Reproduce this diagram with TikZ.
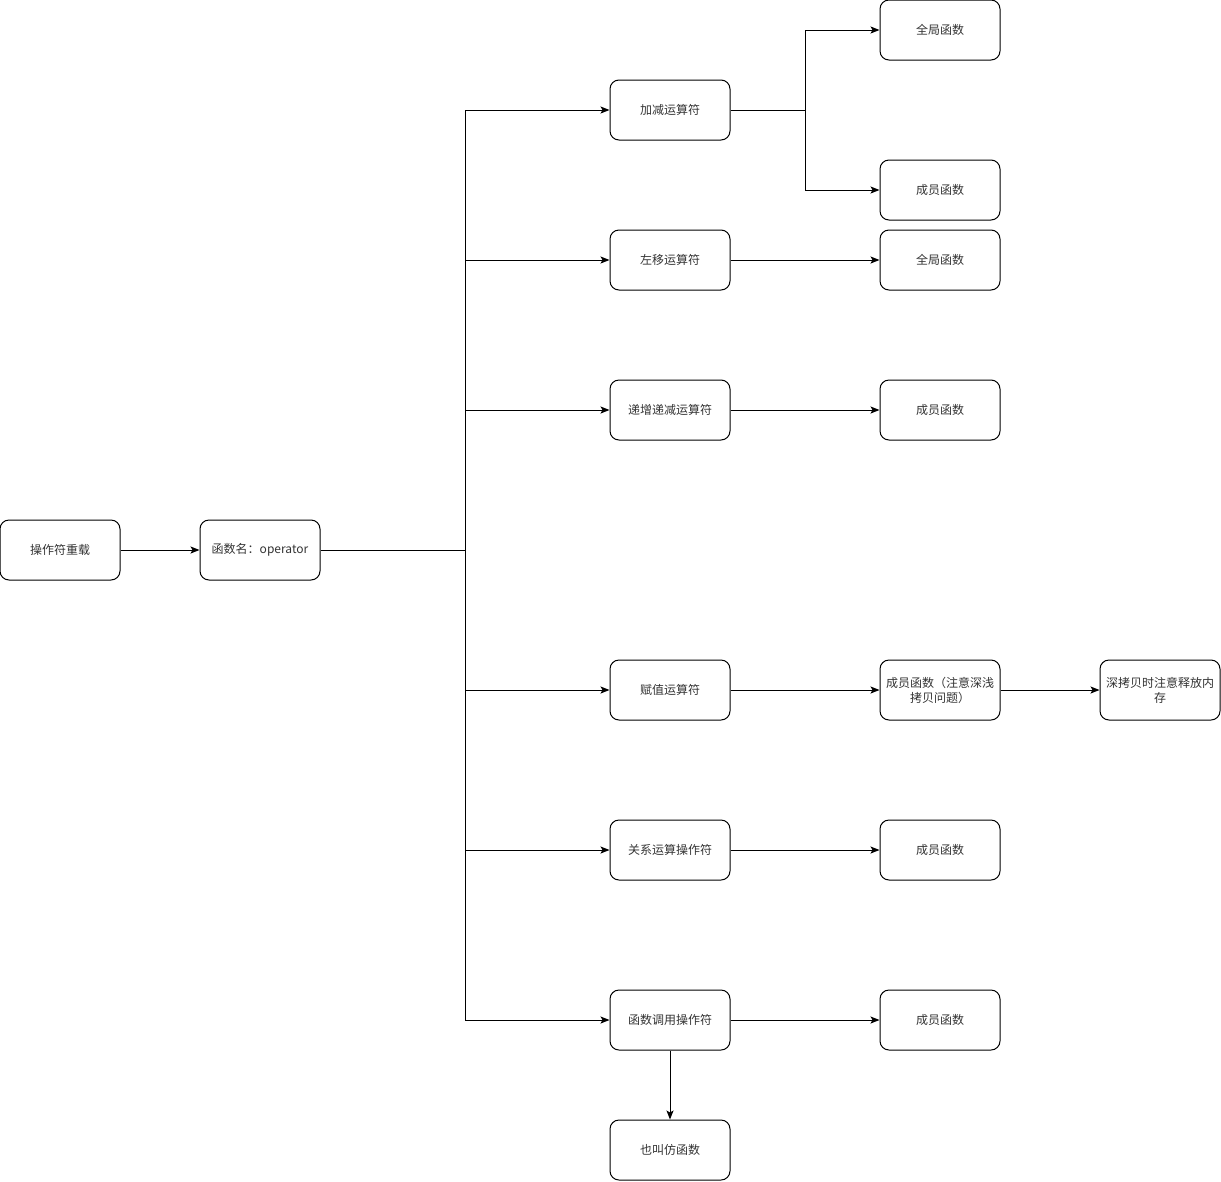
\documentclass[tikz,border=0pt]{standalone}
\usepackage{fontspec}
\setmainfont{Noto Sans CJK SC}
\usetikzlibrary{arrows.meta}
\definecolor{ink}{HTML}{000000}
\definecolor{txt}{HTML}{333333}

\tikzset{
  box/.style={draw=ink,line width=1pt,rounded corners=9pt,minimum width=120pt,
    minimum height=60pt,inner sep=2pt,align=center,text=txt,
    font=\fontsize{12}{15}\selectfont},
  link/.style={draw=ink,line width=1pt},
  arr/.style={link,-{Stealth[length=9pt,width=7pt,inset=2pt]}}
}

\begin{document}
\begin{tikzpicture}[x=1pt,y=-1pt]
    \useasboundingbox (0,0) rectangle (1221,1181);
    \node[box] (root) at (60,550) {操作符重载};
    \node[box] (fn) at (260,550) {函数名：operator};
    \draw[arr] (root) -- (fn);
    \coordinate (j) at (465,550);
    \draw[link] (fn) -- (j);
    % operators and what they are written as
    \foreach \n/\y/\op/\kind in {%
      b/260/左移运算符/全局函数, c/410/递增递减运算符/成员函数,
      e/850/关系运算操作符/成员函数, f/1020/函数调用操作符/成员函数}{
      \node[box] (op\n) at (670,\y) {\op};
      \node[box] (fx\n) at (940,\y) {\kind};
      \draw[arr] (j |- op\n) -- (op\n);
      \draw[arr] (op\n) -- (fx\n);}
    \node[box] (opa) at (670,110) {加减运算符};
    \node[box] (fxa1) at (940,30) {全局函数};
    \node[box] (fxa2) at (940,190) {成员函数};
    \coordinate (ka) at (805,110);
    \draw[arr] (j |- opa) -- (opa);
    \draw[link] (opa) -- (ka);
    \draw[arr] (ka) |- (fxa1);
    \draw[arr] (ka) |- (fxa2);
    \node[box] (opd) at (670,690) {赋值运算符};
    \node[box] (fxd) at (940,690) {成员函数（注意深浅\\拷贝问题）};
    \node[box] (mem) at (1160,690) {深拷贝时注意释放内\\存};
    \draw[arr] (j |- opd) -- (opd);
    \draw[arr] (opd) -- (fxd);
    \draw[arr] (fxd) -- (mem);
    \node[box] (alias) at (670,1150) {也叫仿函数};
    \draw[arr] (opf) -- (alias);
    \draw[link] (j |- opa) -- (j |- opf);
\end{tikzpicture}
\end{document}
